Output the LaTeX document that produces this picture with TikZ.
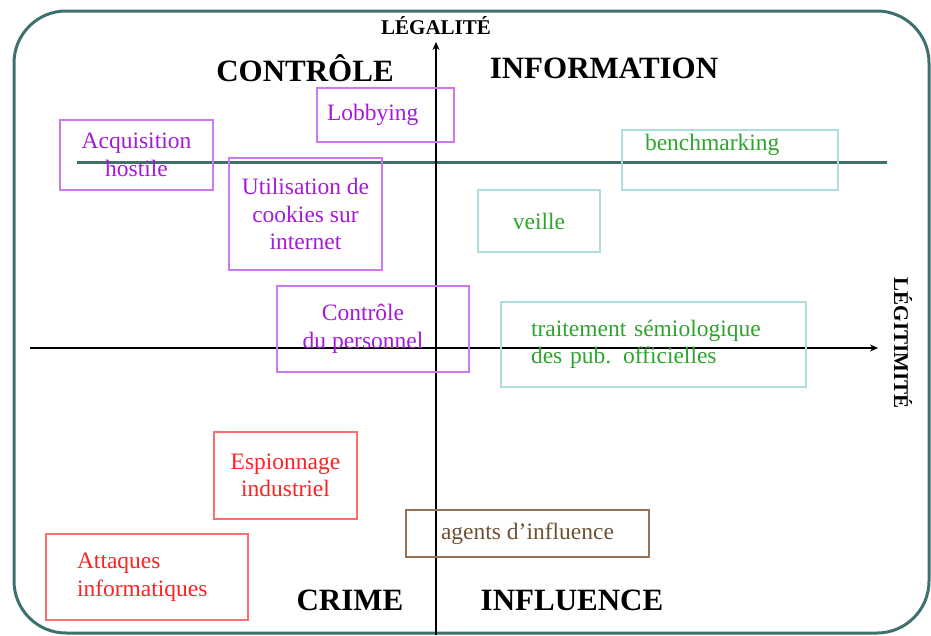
\documentclass[tikz,border=0pt]{standalone}
\usepackage{fontspec}
\setmainfont{Liberation Serif}
\usepackage{xcolor}
\usetikzlibrary{arrows.meta}
\definecolor{cadre}{RGB}{62,112,112}
\definecolor{violetT}{RGB}{165,25,220}
\definecolor{violetB}{RGB}{205,120,240}
\definecolor{vertT}{RGB}{45,165,45}
\definecolor{turqB}{RGB}{175,220,220}
\definecolor{rougeT}{RGB}{250,35,35}
\definecolor{rougeB}{RGB}{255,110,110}
\definecolor{brunT}{RGB}{110,80,50}
\definecolor{brunB}{RGB}{150,115,85}

\begin{document}
\begin{tikzpicture}[x=1pt, y=-1pt, >={Stealth[length=8pt,width=7pt]},
  bx/.style 2 args={draw=#1, text=#2, line width=1.3pt, inner sep=0pt, align=center,
    font=\fontsize{23.5}{27.5}\selectfont},
  ttl/.style={font=\fontsize{31}{31}\selectfont\bfseries},
  axe/.style={font=\fontsize{21}{21}\selectfont\bfseries}]
\useasboundingbox (0,0) rectangle (931,635);
\draw[cadre, line width=3pt, rounded corners=52pt] (14,11) rectangle (929,633);
\draw[cadre, line width=3pt] (77,162) -- (887,162);

% axes
\node[axe] (leg) at (436,26) {LÉGALITÉ};
\node[axe, rotate=-90] (legit) at (903,343) {LÉGITIMITÉ};
\coordinate (vbas) at (436,635);
\coordinate (hgauche) at (30,348);
\draw[->, line width=2.2pt] (vbas) -- (436,42);
\draw[->, line width=2.2pt] (hgauche) -- (878,348);

% quadrants
\foreach \nom/\x/\y/\lab in {ctrl/305/68/CONTRÔLE, info/604/68/INFORMATION, crime/350/600/CRIME, infl/572/600/INFLUENCE}
  \node[ttl] (\nom) at (\x,\y) {\lab};

% pratiques
\node[bx={violetB}{violetT}, minimum width=153, minimum height=70] (acq) at (136.5,155) {Acquisition\\hostile};
\node[bx={violetB}{violetT}, minimum width=137, minimum height=54, text width=117, align=left] (lob) at (385.5,115) {Lobbying};
\node[bx={violetB}{violetT}, minimum width=153, minimum height=112] (cook) at (305.5,214) {Utilisation de\\cookies sur\\internet};
\node[bx={violetB}{violetT}, minimum width=192, minimum height=86] (pers) at (373,329) {Contrôle\hspace*{20pt}\\du personnel\hspace*{20pt}};
\node[bx={turqB}{vertT}, minimum width=216, minimum height=60, text width=170, align=left, text depth=35] (bench) at (730,160) {benchmarking};
\node[bx={turqB}{vertT}, minimum width=122, minimum height=62] (veil) at (539,221) {veille};
\node[bx={turqB}{vertT}, minimum width=305, minimum height=85, text width=245, align=left] (semio) at (653.5,344.5) {traitement sémiologique\\des pub. officielles};
\node[bx={rougeB}{rougeT}, minimum width=143, minimum height=87] (espi) at (285.5,475.5) {Espionnage\\industriel};
\node[bx={rougeB}{rougeT}, minimum width=202, minimum height=86, text width=140, align=left] (atta) at (147,577) {Attaques\\informatiques};
\node[bx={brunB}{brunT}, minimum width=243, minimum height=47] (agen) at (527.5,533.5) {agents d’influence};
\end{tikzpicture}
\end{document}
